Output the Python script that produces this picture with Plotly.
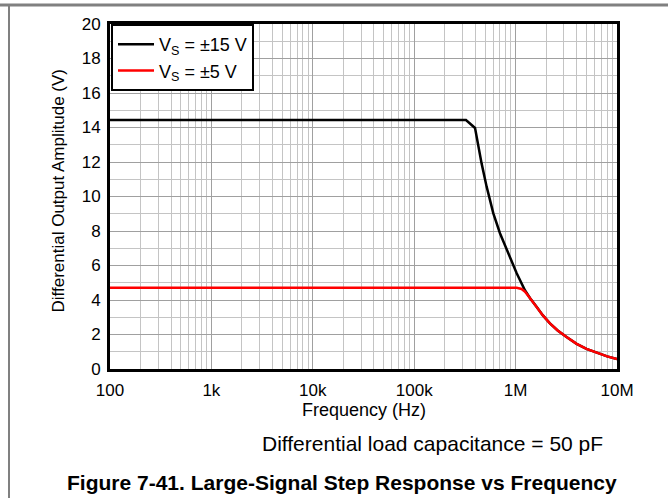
import plotly.graph_objects as go

# ---- data ----
freq_15 = [100, 1e3, 1e4, 1e5, 3.24e5, 3.98e5, 4.29e5, 4.62e5, 5.18e5, 6.03e5, 7.01e5, 8.16e5, 1.025e6,
           1.24e6, 1.39e6, 1.61e6, 1.85e6, 2.18e6, 2.6e6, 3.18e6, 4.0e6, 5.0e6, 6.76e6, 8.0e6, 1e7]
amp_15 = [14.43, 14.43, 14.43, 14.43, 14.43, 13.97, 12.89, 11.92, 10.57, 9.02, 7.87, 6.9, 5.55,
          4.55, 4.1, 3.61, 3.12, 2.65, 2.23, 1.86, 1.46, 1.17, 0.87, 0.73, 0.57]

freq_5 = [100, 1e3, 1e4, 1e5, 1e6, 1.025e6, 1.146e6, 1.24e6, 1.39e6, 1.61e6, 1.85e6, 2.18e6, 2.6e6,
          3.18e6, 4.0e6, 5.0e6, 6.76e6, 8.0e6, 1e7]
amp_5 = [4.71, 4.71, 4.71, 4.71, 4.71, 4.71, 4.64, 4.48, 4.1, 3.61, 3.12, 2.65, 2.23,
         1.86, 1.46, 1.17, 0.87, 0.73, 0.57]

x_tickvals = [100, 1e3, 1e4, 1e5, 1e6, 1e7]
x_ticktext = ["100", "1k", "10k", "100k", "1M", "10M"]
minor_mult = [2, 3, 4, 5, 6, 7, 8, 9]
x_minor = [m * d for d in x_tickvals[:-1] for m in minor_mult]

y_tickvals = [0, 2, 4, 6, 8, 10, 12, 14, 16, 18, 20]

FONT = "Liberation Sans, Arial, sans-serif"

W, H = 668, 498
L, R, T, B = 110, 51, 24, 129
PW, PH = W - L - R, H - T - B


def px(x):
    return (x - L) / PW


def py(y):
    return (H - B - y) / PH


fig = go.Figure()
fig.add_trace(go.Scatter(x=freq_15, y=amp_15, mode="lines", name="V<sub>S</sub> = ±15 V",
                         line=dict(color="black", width=2.5)))
fig.add_trace(go.Scatter(x=freq_5, y=amp_5, mode="lines", name="V<sub>S</sub> = ±5 V",
                         line=dict(color="#ff0000", width=2.5)))

fig.update_layout(
    width=W, height=H,
    margin=dict(l=L, r=R, t=T, b=B),
    paper_bgcolor="white", plot_bgcolor="white",
    font=dict(family=FONT, size=17, color="black"),
    showlegend=True,
    legend=dict(x=0.002, y=1.0, xanchor="left", yanchor="top",
                bgcolor="white", bordercolor="black", borderwidth=2,
                font=dict(size=18), tracegroupgap=0, itemwidth=36),
    xaxis=dict(type="log", range=[2, 7], tickvals=x_tickvals, ticktext=x_ticktext,
               showgrid=True, gridcolor="#a0a0a0", gridwidth=1,
               minor=dict(tickvals=x_minor, showgrid=True, gridcolor="#c4c4c4", gridwidth=1),
               showline=True, linecolor="black", linewidth=3, mirror=True,
               ticks="", zeroline=False, ticklabelstandoff=4,
               tickfont=dict(size=17)),
    yaxis=dict(range=[0, 20], tickvals=y_tickvals,
               showgrid=True, gridcolor="#a0a0a0", gridwidth=1,
               minor=dict(dtick=1, showgrid=True, gridcolor="#c4c4c4", gridwidth=1),
               showline=True, linecolor="black", linewidth=3, mirror=True,
               ticks="", zeroline=False, ticklabelstandoff=3,
               tickfont=dict(size=17)),
)

# outer frame lines (top and left)
fig.add_shape(type="line", xref="paper", yref="paper",
              x0=px(0), x1=px(W), y0=py(5), y1=py(5),
              line=dict(color="#808080", width=3))
fig.add_shape(type="line", xref="paper", yref="paper",
              x0=px(9), x1=px(9), y0=py(5), y1=py(H),
              line=dict(color="#808080", width=2))

# axis titles
fig.add_annotation(text="Frequency (Hz)", xref="paper", yref="paper",
                   x=px(364), y=py(410), showarrow=False,
                   xanchor="center", yanchor="middle", font=dict(size=18))
fig.add_annotation(text="Differential Output Amplitude (V)", xref="paper", yref="paper",
                   x=px(58), y=py(191.5), showarrow=False, textangle=-90,
                   xanchor="center", yanchor="middle", font=dict(size=17))

fig.add_annotation(text="Differential load capacitance = 50 pF", xref="paper", yref="paper",
                   x=px(432.5), y=py(443), showarrow=False,
                   xanchor="center", yanchor="middle", font=dict(size=21))
fig.add_annotation(text="<b>Figure 7-41. Large-Signal Step Response vs Frequency</b>", xref="paper", yref="paper",
                   x=px(341.5), y=py(483), showarrow=False,
                   xanchor="center", yanchor="middle", font=dict(size=21))

fig.write_html("out.html", config={"displayModeBar": False},
               post_script="document.body.style.margin='0';document.body.style.padding='0';")
